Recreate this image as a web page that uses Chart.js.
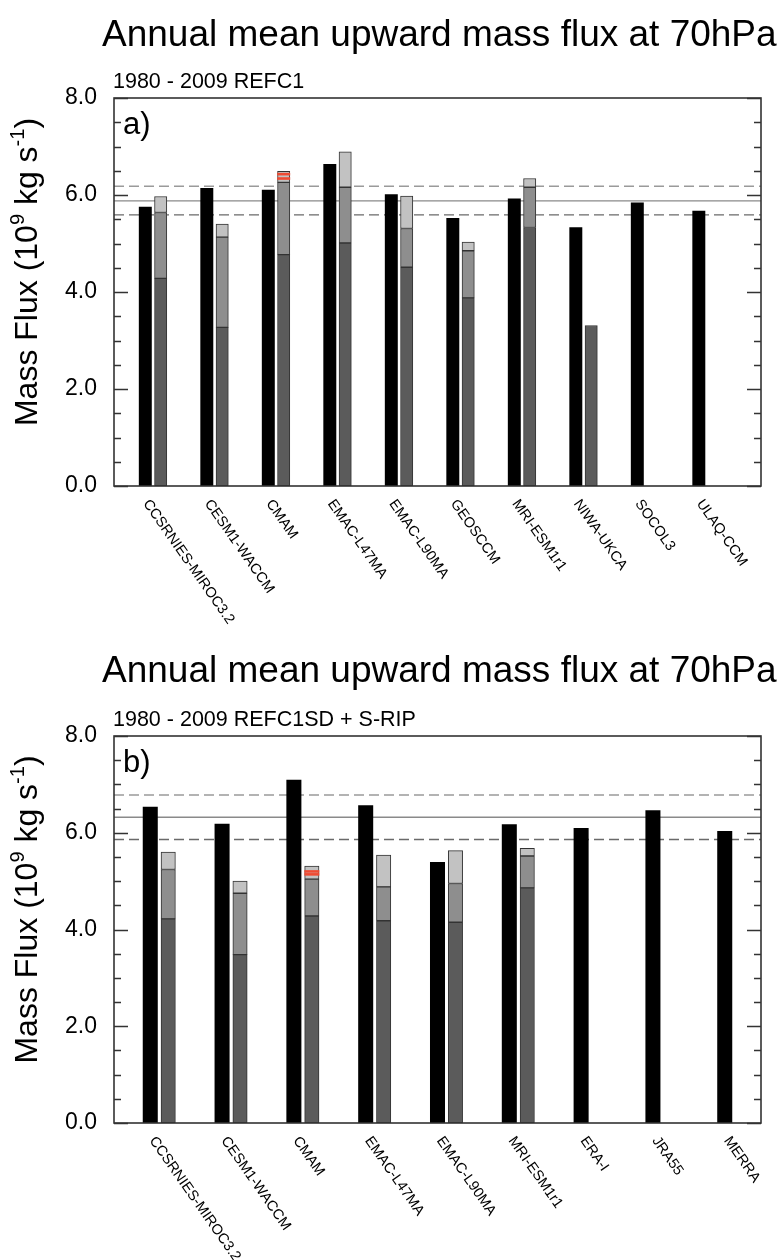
<!DOCTYPE html>
<html>
<head>
<meta charset="utf-8">
<script src="https://cdn.jsdelivr.net/npm/chart.js@4.4.1/dist/chart.umd.min.js"></script>
<style>
  html, body { margin: 0; padding: 0; background: #fff; }
  canvas { display: block; }
</style>
</head>
<body>
<canvas id="chartA" width="779" height="630"></canvas>
<canvas id="chartB" width="779" height="630"></canvas>
<script>
// ---------- Panel a data (REFC1) ----------
const modelsA = ['CCSRNIES-MIROC3.2','CESM1-WACCM','CMAM','EMAC-L47MA','EMAC-L90MA','GEOSCCM','MRI-ESM1r1','NIWA-UKCA','SOCOL3','ULAQ-CCM'];
const totalA  = [5.75, 6.14, 6.10, 6.63, 6.01, 5.52, 5.92, 5.33, 5.84, 5.67];
const darkA   = [4.28, 3.27, 4.77, 5.01, 4.51, 3.88, 5.33, 3.31, null, null];
const mediumA = [5.64, 5.13, 6.26, 6.16, 5.31, 4.85, 6.16, null, null, null];
const lightA  = [5.97, 5.40, 6.49, 6.89, 5.98, 5.03, 6.34, null, null, null];
const redA    = [null, null, [6.34, 6.43], null, null, null, null, null, null, null];
const meanA   = 5.88;
const upperA  = 6.18;
const lowerA  = 5.59;

// ---------- Panel b data (REFC1SD + S-RIP) ----------
const modelsB = ['CCSRNIES-MIROC3.2','CESM1-WACCM','CMAM','EMAC-L47MA','EMAC-L90MA','MRI-ESM1r1','ERA-I','JRA55','MERRA'];
const totalB  = [6.53, 6.18, 7.09, 6.56, 5.39, 6.17, 6.09, 6.46, 6.03];
const darkB   = [4.22, 3.48, 4.28, 4.18, 4.15, 4.86, null, null, null];
const mediumB = [5.24, 4.75, 5.04, 4.88, 4.95, 5.52, null, null, null];
const lightB  = [5.60, 5.00, 5.31, 5.54, 5.63, 5.68, null, null, null];
const redB    = [null, null, [5.14, 5.20], null, null, null, null, null, null];
const meanB   = 6.32;
const upperB  = 6.78;
const lowerB  = 5.86;

const yTicks = [0, 2, 4, 6, 8];

const FONT = '"Liberation Sans", Arial, Helvetica, sans-serif';

function buildPanel(id, p) {
  const plotLeft = 114, plotRight = 761;
  const pxPerUnit = (plotRight - plotLeft) / (p.xMax - p.xMin);
  const bw = 0.2 * pxPerUnit;
  const idx = p.labels.map((_, i) => i);

  const seg = (lowArr, highArr) => idx
    .filter(i => highArr[i] !== null)
    .map(i => ({ x: i + 0.125, y: [lowArr ? lowArr[i] : 0, highArr[i]] }));

  const redData = [];
  idx.forEach(i => {
    if (p.red[i]) p.red[i].forEach(v => redData.push({ x: i + 0.125, y: [v - 0.02, v + 0.02] }));
  });

  const barCommon = { type: 'bar', barThickness: bw, grouped: false, order: 1 };
  const stackCommon = Object.assign({}, barCommon, { borderColor: '#333', borderWidth: 1, borderSkipped: false });
  const hline = (v, dash, color) => ({
    type: 'line', data: [{ x: p.xMin, y: v }, { x: p.xMax, y: v }],
    borderColor: color, borderWidth: 1.3, borderDash: dash, pointRadius: 0, order: 10
  });

  const overlay = {
    id: 'overlay_' + id,
    afterDraw(chart) {
      const ctx = chart.ctx;
      const a = chart.chartArea;
      const ys = chart.scales.y, xs = chart.scales.x;
      ctx.save();
      // inward tick marks (left and right)
      ctx.strokeStyle = '#333';
      ctx.lineWidth = 1.3;
      for (let v = 0; v <= 8.0001; v += 0.5) {
        const y = Math.round(ys.getPixelForValue(v)) + 0.5;
        const major = Math.abs(v % 2) < 1e-6;
        const len = major ? 14 : 7;
        ctx.beginPath();
        ctx.moveTo(a.left, y); ctx.lineTo(a.left + len, y);
        ctx.moveTo(a.right, y); ctx.lineTo(a.right - len, y);
        ctx.stroke();
      }
      // frame
      ctx.lineWidth = 1.6;
      ctx.strokeStyle = '#333';
      ctx.strokeRect(a.left, a.top, a.right - a.left, a.bottom - a.top);

      ctx.fillStyle = '#000';
      // title
      ctx.font = '37px ' + FONT;
      ctx.textAlign = 'left';
      ctx.textBaseline = 'alphabetic';
      ctx.fillText(p.title, 102, p.titleY);
      // subtitle
      ctx.font = '21.5px ' + FONT;
      ctx.fillText(p.subtitle, 113, a.top - 10);
      // panel letter
      ctx.font = '31px ' + FONT;
      ctx.fillText(p.letter, 123, a.top + 36);

      // y axis title with superscripts
      const cy = (a.top + a.bottom) / 2 - 20;
      ctx.translate(37, cy);
      ctx.rotate(-Math.PI / 2);
      const big = 32, small = 20;
      const parts = [
        ['Mass Flux (10', big, 0], ['9', small, -13], [' kg s', big, 0], ['-1', small, -13], [')', big, 0]
      ];
      let total = 0;
      parts.forEach(pt => { ctx.font = pt[1] + 'px ' + FONT; total += ctx.measureText(pt[0]).width; });
      let x0 = -total / 2;
      parts.forEach(pt => {
        ctx.font = pt[1] + 'px ' + FONT;
        ctx.fillText(pt[0], x0, pt[2]);
        x0 += ctx.measureText(pt[0]).width;
      });
      ctx.restore();

      // rotated x labels
      ctx.save();
      ctx.fillStyle = '#000';
      ctx.font = '14.5px ' + FONT;
      ctx.textAlign = 'left';
      ctx.textBaseline = 'top';
      p.labels.forEach((lab, i) => {
        const px = xs.getPixelForValue(i);
        ctx.save();
        ctx.translate(px - 1, a.bottom + 11);
        ctx.rotate(55 * Math.PI / 180);
        ctx.fillText(lab, 0, 0);
        ctx.restore();
      });
      ctx.restore();
    }
  };

  return new Chart(document.getElementById(id), {
    type: 'bar',
    data: {
      datasets: [
        hline(p.upper, [10, 5], '#9a9a9a'),
        hline(p.mean, [], '#8a8a8a'),
        hline(p.lower, [10, 5], '#6a6a6a'),
        Object.assign({}, barCommon, {
          data: idx.map(i => ({ x: i - 0.125, y: p.total[i] })),
          backgroundColor: '#000', borderWidth: 0
        }),
        Object.assign({}, stackCommon, { data: seg(null, p.dark), backgroundColor: '#5b5b5b' }),
        Object.assign({}, stackCommon, { data: seg(p.dark, p.medium), backgroundColor: '#8e8e8e' }),
        Object.assign({}, stackCommon, { data: seg(p.medium, p.light), backgroundColor: '#c2c2c2' }),
        Object.assign({}, barCommon, { data: redData, backgroundColor: '#f04a32', borderWidth: 0, order: 0 })
      ]
    },
    options: {
      responsive: false,
      animation: false,
      devicePixelRatio: 1,
      layout: { padding: { left: 0, right: 779 - plotRight, top: p.top, bottom: 630 - p.bottom } },
      plugins: { legend: { display: false }, tooltip: { enabled: false }, title: { display: false } },
      scales: {
        x: { type: 'linear', min: p.xMin, max: p.xMax, display: false, offset: false },
        y: {
          min: 0, max: 8,
          afterFit(scale) { scale.width = plotLeft; },
          afterBuildTicks(scale) { scale.ticks = yTicks.map(v => ({ value: v })); },
          grid: { display: false, drawTicks: false },
          border: { display: false },
          ticks: {
            padding: 17,
            color: '#000',
            font: { family: FONT, size: 23 },
            callback: v => Number(v).toFixed(1)
          }
        }
      }
    },
    plugins: [overlay]
  });
}

buildPanel('chartA', {
  labels: modelsA, total: totalA, dark: darkA, medium: mediumA, light: lightA, red: redA,
  mean: meanA, upper: upperA, lower: lowerA,
  xMin: -0.634, xMax: 9.886, top: 98, bottom: 486, titleY: 46,
  title: 'Annual mean upward mass flux at 70hPa', subtitle: '1980 - 2009 REFC1', letter: 'a)'
});
buildPanel('chartB', {
  labels: modelsB, total: totalB, dark: darkB, medium: mediumB, light: lightB, red: redB,
  mean: meanB, upper: upperB, lower: lowerB,
  xMin: -0.63, xMax: 8.38, top: 106, bottom: 493, titleY: 52,
  title: 'Annual mean upward mass flux at 70hPa', subtitle: '1980 - 2009 REFC1SD + S-RIP', letter: 'b)'
});
</script>
</body>
</html>
